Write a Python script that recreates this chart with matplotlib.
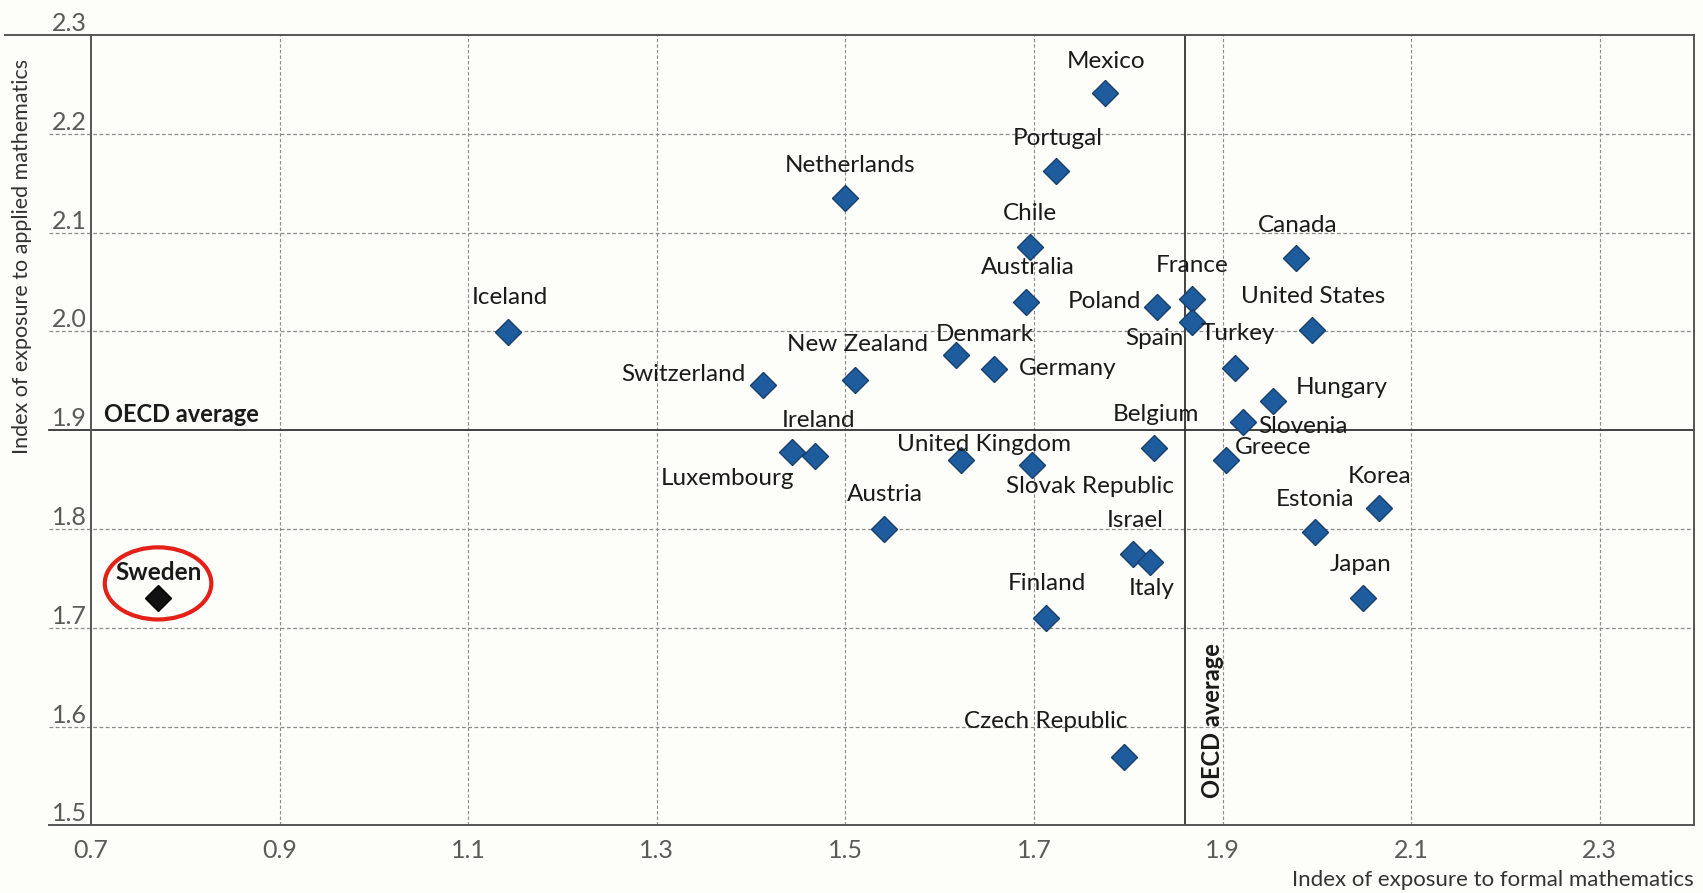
import matplotlib
matplotlib.use("Agg")
import matplotlib.pyplot as plt
from matplotlib.patches import Ellipse

# data
countries = ["Mexico", "Portugal", "Netherlands", "Chile", "Canada", "Australia",
             "Poland", "France", "Spain", "United States", "Iceland", "Denmark",
             "Germany", "New Zealand", "Switzerland", "Turkey", "Hungary", "Slovenia",
             "Belgium", "Greece", "Ireland", "Luxembourg", "United Kingdom",
             "Slovak Republic", "Korea", "Estonia", "Austria", "Israel", "Italy",
             "Japan", "Finland", "Czech Republic", "Sweden"]
formal = [1.775, 1.723, 1.500, 1.696, 1.978, 1.692,
          1.830, 1.868, 1.868, 1.995, 1.142, 1.617,
          1.658, 1.510, 1.413, 1.913, 1.954, 1.922,
          1.827, 1.904, 1.468, 1.443, 1.623,
          1.698, 2.066, 1.998, 1.541, 1.805, 1.823,
          2.049, 1.713, 1.795, 0.771]
applied = [2.241, 2.162, 2.135, 2.085, 2.074, 2.030,
           2.025, 2.033, 2.010, 2.001, 1.999, 1.976,
           1.962, 1.951, 1.946, 1.963, 1.930, 1.908,
           1.882, 1.870, 1.874, 1.878, 1.870,
           1.865, 1.821, 1.797, 1.800, 1.775, 1.767,
           1.730, 1.710, 1.569, 1.730]
highlight = "Sweden"
oecd_formal = 1.86
oecd_applied = 1.90

x_ticks = [0.7, 0.9, 1.1, 1.3, 1.5, 1.7, 1.9, 2.1, 2.3]
y_ticks = [1.5, 1.6, 1.7, 1.8, 1.9, 2.0, 2.1, 2.2, 2.3]

# label placement: offset in pixels from the point, horizontal alignment
LABEL_POS = {
    "Mexico": (1, 32, "center"), "Portugal": (2, 33, "center"),
    "Netherlands": (5, 33, "center"), "Chile": (0, 34, "center"),
    "Canada": (2, 33, "center"), "Australia": (1, 34, "center"),
    "Poland": (-15, 5, "right"), "France": (0, 33, "center"),
    "Spain": (-9, -17, "right"), "United States": (1, 34, "center"),
    "Iceland": (2, 35, "center"), "Denmark": (29, 21, "center"),
    "Germany": (25, 0, "left"), "New Zealand": (3, 35, "center"),
    "Switzerland": (-18, 10, "right"), "Turkey": (3, 34, "center"),
    "Hungary": (22, 13, "left"), "Slovenia": (15, -4, "left"),
    "Belgium": (2, 34, "center"), "Greece": (9, 12, "left"),
    "Ireland": (3, 35, "center"), "Luxembourg": (3, -27, "right"),
    "United Kingdom": (23, 15, "center"), "Slovak Republic": (58, -22, "center"),
    "Korea": (1, 32, "center"), "Estonia": (0, 33, "center"),
    "Austria": (1, 35, "center"), "Israel": (2, 33, "center"),
    "Italy": (2, -27, "center"), "Japan": (-2, 34, "center"),
    "Finland": (1, 34, "center"), "Czech Republic": (-78, 36, "center"),
    "Sweden": (1, 26, "center"),
}

BLUE = "#1f5c9e"
EDGE = "#173f6e"
GRID = "#8a8a8a"
SPINE = "#555555"
BG = "#fdfdf9"

plt.rcParams["font.family"] = ["Lato", "DejaVu Sans"]

fig = plt.figure(figsize=(17.03, 8.93), dpi=100, facecolor=BG)
ax = fig.add_axes([0.0535, 0.0756, 0.9412, 0.8852], facecolor=BG)
ax.set_xlim(0.7, 2.4)
ax.set_ylim(1.5, 2.3)

# grid (dashed), extending a little to the left of the y axis
for y in y_ticks[1:-1]:
    if y == oecd_applied:
        continue
    ax.axhline(y, xmin=-0.026, xmax=1, color=GRID, lw=0.9, ls=(0, (3, 2)),
               clip_on=False, zorder=1)
for x in x_ticks[1:]:
    ax.axvline(x, color=GRID, lw=0.8, ls=(0, (3, 2)), zorder=1)

# averages
ax.axhline(oecd_applied, xmin=-0.026, xmax=1, color="#333333", lw=1.3,
           clip_on=False, zorder=2)
ax.axvline(oecd_formal, color="#333333", lw=1.3, zorder=2)

# frame
for s in ["left", "right", "top", "bottom"]:
    ax.spines[s].set_color(SPINE)
    ax.spines[s].set_linewidth(1.4)
ax.axhline(2.3, xmin=-0.054, xmax=0, color=SPINE, lw=1.4, clip_on=False)
ax.axhline(1.5, xmin=-0.026, xmax=0, color=SPINE, lw=1.4, clip_on=False)

ax.set_xticks(x_ticks)
ax.set_yticks(y_ticks)
ax.set_xticklabels([f"{v:.1f}" for v in x_ticks])
ax.set_yticklabels([f"{v:.1f}" for v in y_ticks])
ax.tick_params(axis="both", length=0, labelsize=18, labelcolor="#5a5a5a")
ax.tick_params(axis="x", pad=10)
ax.tick_params(axis="y", pad=3)
for lab in ax.get_yticklabels():
    lab.set_va("bottom")

# points
for name, fx, fy in zip(countries, formal, applied):
    is_hl = name == highlight
    ax.plot(fx, fy, marker="D", ms=13, color="#111111" if is_hl else BLUE,
            mec="#000000" if is_hl else EDGE, mew=1, ls="none", zorder=4)
    dx, dy, ha = LABEL_POS[name]
    ax.annotate(name, (fx, fy), xytext=(dx, dy), textcoords="offset pixels",
                ha=ha, va="center", fontsize=17.5, color="#1a1a1a",
                fontweight="bold" if is_hl else "normal", zorder=5)

# red ring around the highlighted country
i = countries.index(highlight)
ax.add_patch(Ellipse((formal[i], applied[i] + 0.015), 0.113, 0.073, fill=False,
                     ec="#e32119", lw=3, zorder=6))

ax.annotate("OECD average", (0.7, oecd_applied), xytext=(13, 16),
            textcoords="offset pixels", ha="left", va="center",
            fontsize=17, fontweight="bold", color="#1a1a1a")
ax.annotate("OECD average", (oecd_formal, 1.5), xytext=(28, 27),
            textcoords="offset pixels", ha="center", va="bottom", rotation=90,
            fontsize=17, fontweight="bold", color="#1a1a1a")

fig.text(0.0127, 0.713, "Index of exposure to applied mathematics", rotation=90,
         ha="center", va="center", fontsize=15.5, color="#333333")
fig.text(0.9947, 0.0146, "Index of exposure to formal mathematics",
         ha="right", va="center", fontsize=16, color="#333333")

fig.savefig("out.png", dpi=100, facecolor=BG)
